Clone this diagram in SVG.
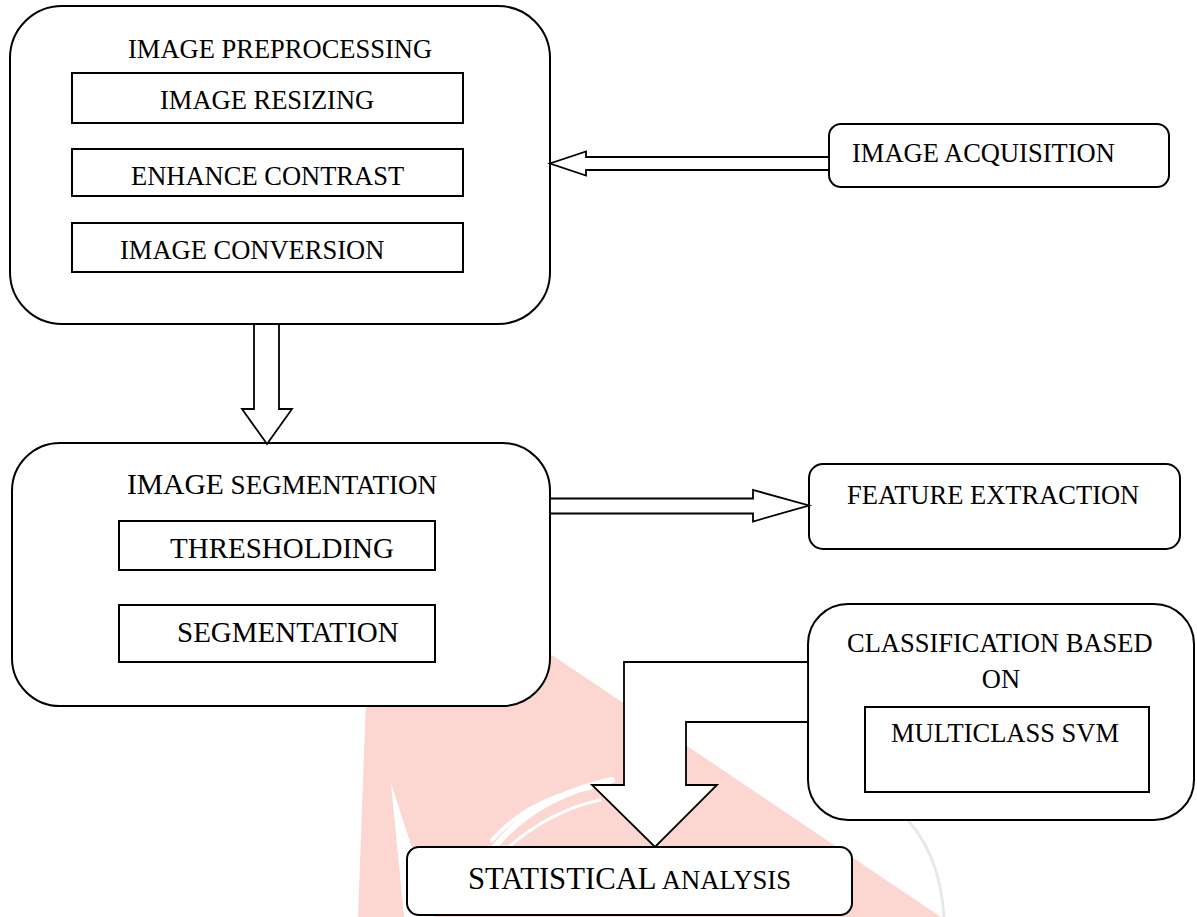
<svg xmlns="http://www.w3.org/2000/svg" width="1197" height="917" viewBox="0 0 1197 917">
<style>
.box{fill:#fff;stroke:#000;stroke-width:2}
.inner{fill:#fff;stroke:#000;stroke-width:2}
.arrow{fill:#fff;stroke:#000;stroke-width:1.8;stroke-linejoin:miter}
text{font-family:"Liberation Serif","Times New Roman",serif;font-size:26.5px;fill:#000}
.big{font-size:29px}
.wm{fill:#fcd7d1}
.wmw{fill:none;stroke:#fff;stroke-linecap:round}
</style>
<rect x="0" y="0" width="1197" height="917" fill="#fff"/>
<g id="watermark">
  <polygon class="wm" points="366,700 552,655 941,917 358,917"/>
  <polygon fill="#fff" points="391,783 404,917 434,917"/>
  <path class="wmw" stroke-width="6" d="M480,868 Q520,800 612,780"/>
  <path class="wmw" stroke-width="4" d="M492,840 Q530,798 590,788"/>
  <path class="wmw" stroke-width="3" d="M500,855 Q545,812 600,800"/>
  <path fill="none" stroke="#e8e8e8" stroke-width="3" d="M900,812 Q940,850 944,917"/>
</g>
<g id="preprocessing">
  <rect class="box" x="10" y="6" width="540" height="318" rx="52" ry="52"/>
  <text x="128" y="58">IMAGE PREPROCESSING</text>
</g>
<g id="resizing">
  <rect class="inner" x="72" y="73" width="391" height="50"/>
  <text x="160" y="109">IMAGE RESIZING</text>
</g>
<g id="contrast">
  <rect class="inner" x="72" y="149" width="391" height="47"/>
  <text x="131" y="185">ENHANCE CONTRAST</text>
</g>
<g id="conversion">
  <rect class="inner" x="72" y="223" width="391" height="49"/>
  <text x="120" y="259">IMAGE CONVERSION</text>
</g>
<g id="acquisition">
  <rect class="box" x="829" y="124" width="340" height="63" rx="12" ry="12"/>
  <text x="852" y="162">IMAGE ACQUISITION</text>
</g>
<g id="segmentation">
  <rect class="box" x="12" y="443" width="538" height="263" rx="48" ry="48"/>
  <text x="127" y="494" textLength="310" lengthAdjust="spacingAndGlyphs"><tspan class="big">IMAGE</tspan> SEGMENTATION</text>
</g>
<g id="thresholding">
  <rect class="inner" x="119" y="521" width="316" height="49"/>
  <text class="big" x="170" y="558">THRESHOLDING</text>
</g>
<g id="segmentation-step">
  <rect class="inner" x="119" y="605" width="316" height="57"/>
  <text class="big" x="177" y="642">SEGMENTATION</text>
</g>
<g id="feature">
  <rect class="box" x="809" y="464" width="371" height="85" rx="14" ry="14"/>
  <text x="847" y="504">FEATURE EXTRACTION</text>
</g>
<g id="classification">
  <rect class="box" x="808" y="604" width="386" height="216" rx="40" ry="40"/>
  <text x="847" y="652">CLASSIFICATION BASED</text>
  <text x="1001" y="688" text-anchor="middle">ON</text>
</g>
<g id="svm">
  <rect class="inner" x="865" y="707" width="284" height="85"/>
  <text x="891" y="742">MULTICLASS SVM</text>
</g>
<g id="statistical">
  <rect class="box" x="407" y="847" width="445" height="68" rx="12" ry="12"/>
  <text x="468" y="889" textLength="323" lengthAdjust="spacingAndGlyphs"><tspan style="font-size:30.5px">STATISTICAL</tspan> ANALYSIS</text>
</g>
<g id="connectors">
  <polygon class="arrow" points="829,157 586,157 586,151.5 550,163.5 586,175.5 586,170 829,170"/>
  <polygon class="arrow" points="254,324 254,409 242,409 267,444 292,409 279,409 279,324"/>
  <polygon class="arrow" points="550,498.5 753,498.5 753,490 809,505.5 753,521.5 753,513.5 550,513.5"/>
  <polygon class="arrow" points="808,662 624,662 624,785 592,785 655,847 717,785 686,785 686,722 808,722"/>
</g>
</svg>
